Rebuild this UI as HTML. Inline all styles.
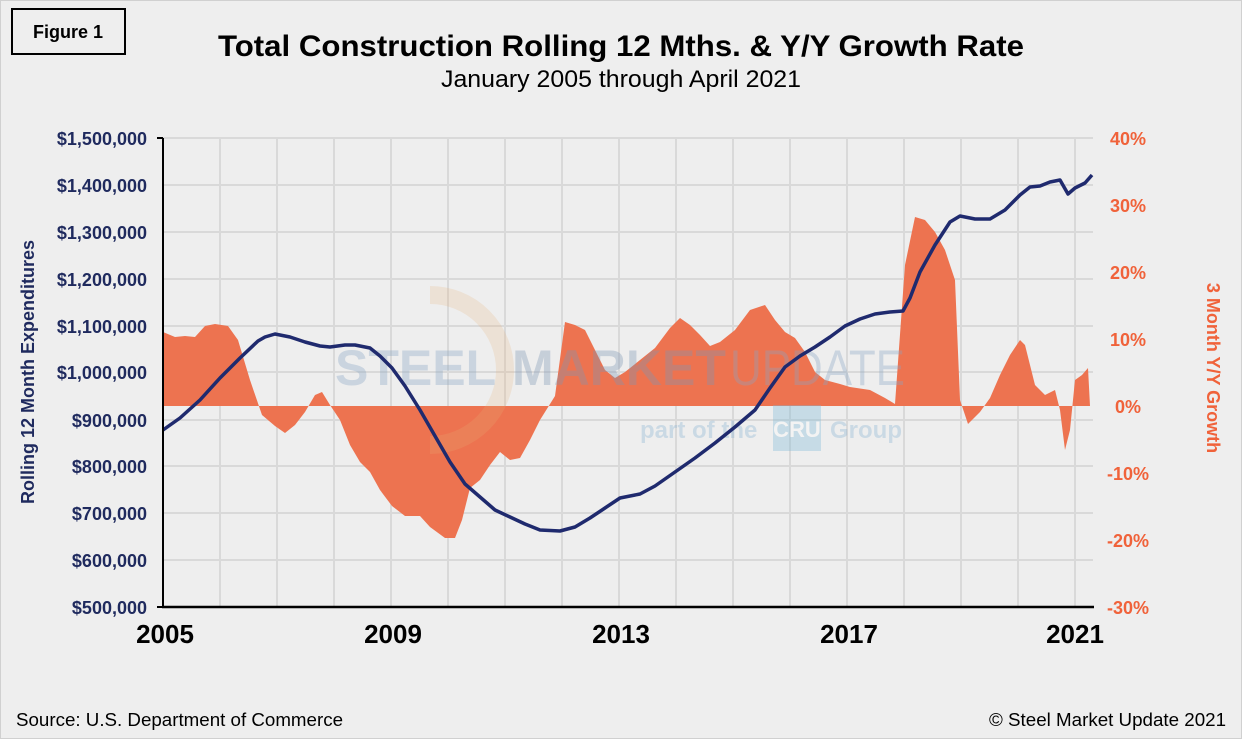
<!DOCTYPE html>
<html><head><meta charset="utf-8"><style>
html,body{margin:0;padding:0;background:#eeeeee;}
svg{display:block;font-family:"Liberation Sans",Arial,sans-serif;}
</style></head><body>
<svg width="1242" height="739" viewBox="0 0 1242 739" xmlns="http://www.w3.org/2000/svg">
<rect x="0" y="0" width="1242" height="739" fill="#eeeeee"/>
<rect x="0.5" y="0.5" width="1241" height="738" fill="none" stroke="#d0d0d0"/>
<rect x="12" y="9" width="113" height="45" fill="none" stroke="#000" stroke-width="2"/>
<text x="68" y="38" font-size="18" font-weight="bold" text-anchor="middle">Figure 1</text>
<text x="621" y="56" font-size="30" font-weight="bold" text-anchor="middle" textLength="806" lengthAdjust="spacingAndGlyphs">Total Construction Rolling 12 Mths. &amp; Y/Y Growth Rate</text>
<text x="621" y="87" font-size="24" text-anchor="middle" textLength="360" lengthAdjust="spacingAndGlyphs">January 2005 through April 2021</text>
<g stroke="#d9d9d9" stroke-width="2">
<line x1="163" y1="138" x2="1093" y2="138"/><line x1="163" y1="185" x2="1093" y2="185"/><line x1="163" y1="232" x2="1093" y2="232"/><line x1="163" y1="279" x2="1093" y2="279"/><line x1="163" y1="326" x2="1093" y2="326"/><line x1="163" y1="372" x2="1093" y2="372"/><line x1="163" y1="420" x2="1093" y2="420"/><line x1="163" y1="466" x2="1093" y2="466"/><line x1="163" y1="513" x2="1093" y2="513"/><line x1="163" y1="560" x2="1093" y2="560"/>
<line x1="220" y1="138" x2="220" y2="607"/><line x1="277" y1="138" x2="277" y2="607"/><line x1="334" y1="138" x2="334" y2="607"/><line x1="391" y1="138" x2="391" y2="607"/><line x1="448" y1="138" x2="448" y2="607"/><line x1="505" y1="138" x2="505" y2="607"/><line x1="562" y1="138" x2="562" y2="607"/><line x1="619" y1="138" x2="619" y2="607"/><line x1="676" y1="138" x2="676" y2="607"/><line x1="733" y1="138" x2="733" y2="607"/><line x1="790" y1="138" x2="790" y2="607"/><line x1="847" y1="138" x2="847" y2="607"/><line x1="904" y1="138" x2="904" y2="607"/><line x1="961" y1="138" x2="961" y2="607"/><line x1="1018" y1="138" x2="1018" y2="607"/><line x1="1075" y1="138" x2="1075" y2="607"/>
</g>
<polygon fill="#ed7350" points="163,406 163,332 175,337 185,336 195,337 205,326 215,324 228,326 238,340 250,380 262,415 275,426 285,433 295,425 305,412 315,395 322,392 330,405 340,420 350,445 360,462 370,472 380,490 392,506 405,516 420,516 430,527 445,538 455,538 462,520 470,488 480,480 490,465 500,452 510,460 520,458 530,440 540,420 555,396 565,322 575,325 585,330 595,350 605,370 615,378 625,372 640,360 655,348 670,328 680,318 690,325 700,335 710,346 720,342 735,330 750,310 765,305 775,320 785,332 795,338 805,352 815,372 825,380 840,384 850,387 870,390 885,398 895,404 905,265 915,217 925,220 935,232 945,250 955,280 960,400 968,424 980,412 990,398 1000,375 1010,355 1020,340 1025,345 1035,385 1045,395 1055,390 1060,410 1065,450 1070,430 1075,380 1082,375 1088,368 1090,406"/>
<g opacity="0.35">
<path d="M430,295 A75,75 0 1 1 430,445" fill="none" stroke="#e8b27a" stroke-width="18" opacity="0.6"/>
<text x="335" y="385" font-size="50" font-weight="bold" fill="#8aa6c4">STEEL</text>
<text x="512" y="385" font-size="50" font-weight="bold" fill="#7e97b5">MARKET</text>
<text x="730" y="385" font-size="50" fill="#8aa6c4" textLength="175" lengthAdjust="spacingAndGlyphs">UPDATE</text>
<text x="640" y="438" font-size="24" font-weight="bold" fill="#8ab4d4">part of the</text>
<rect x="773" y="405" width="48" height="46" fill="#7fbad8"/>
<text x="797" y="437" font-size="22" font-weight="bold" fill="#fff" text-anchor="middle">CRU</text>
<text x="830" y="438" font-size="24" font-weight="bold" fill="#8ab4d4">Group</text>
</g>
<polyline fill="none" stroke="#1f2a6e" stroke-width="3.5" stroke-linejoin="round" points="163,430 180,418 200,400 220,378 240,358 258,341 265,337 275,334 290,337 305,342 320,346 330,347 345,345 355,345 370,348 380,356 392,368 405,386 420,410 435,436 450,462 465,484 480,497 495,510 510,517 525,524 540,530 560,531 575,527 590,518 605,508 620,498 640,494 655,486 675,472 695,458 715,443 735,427 755,410 770,388 785,367 800,356 815,347 830,337 845,326 860,319 875,314 890,312 903,311 910,298 920,272 935,245 950,222 960,216 975,219 990,219 1005,210 1020,195 1030,187 1040,186 1050,182 1060,180 1068,194 1075,188 1085,183 1092,175"/>
<line x1="163" y1="138" x2="163" y2="608" stroke="#000" stroke-width="2"/>
<line x1="157" y1="138" x2="163" y2="138" stroke="#000" stroke-width="2"/>
<line x1="157" y1="607" x2="163" y2="607" stroke="#000" stroke-width="2"/>
<line x1="162" y1="607" x2="1094" y2="607" stroke="#000" stroke-width="2.5"/>
<g font-size="18" font-weight="bold" fill="#1f2a5e" text-anchor="end">
<text x="147" y="145">$1,500,000</text><text x="147" y="192">$1,400,000</text><text x="147" y="239">$1,300,000</text><text x="147" y="286">$1,200,000</text><text x="147" y="333">$1,100,000</text><text x="147" y="379">$1,000,000</text><text x="147" y="427">$900,000</text><text x="147" y="473">$800,000</text><text x="147" y="520">$700,000</text><text x="147" y="567">$600,000</text><text x="147" y="614">$500,000</text>
</g>
<g font-size="18" font-weight="bold" fill="#f0623a" text-anchor="middle">
<text x="1128" y="145">40%</text><text x="1128" y="212">30%</text><text x="1128" y="279">20%</text><text x="1128" y="346">10%</text><text x="1128" y="413">0%</text><text x="1128" y="480">-10%</text><text x="1128" y="547">-20%</text><text x="1128" y="614">-30%</text>
</g>
<text transform="translate(34,372) rotate(-90)" font-size="18" font-weight="bold" fill="#1f2a5e" text-anchor="middle">Rolling 12 Month Expenditures</text>
<text transform="translate(1207,368) rotate(90)" font-size="18" font-weight="bold" fill="#f0623a" text-anchor="middle">3 Month Y/Y Growth</text>
<g font-size="26" font-weight="bold" text-anchor="middle">
<text x="165" y="643">2005</text><text x="393" y="643">2009</text><text x="621" y="643">2013</text><text x="849" y="643">2017</text><text x="1075" y="643">2021</text>
</g>
<text x="16" y="726" font-size="18" textLength="327" lengthAdjust="spacingAndGlyphs">Source: U.S. Department of Commerce</text>
<text x="1226" y="726" font-size="18" text-anchor="end" textLength="237" lengthAdjust="spacingAndGlyphs">© Steel Market Update 2021</text>
</svg>
</body></html>
